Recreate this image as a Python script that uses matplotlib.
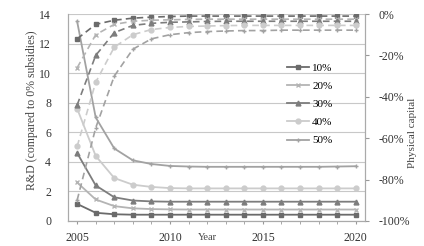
import matplotlib
matplotlib.use("Agg")
import matplotlib.pyplot as plt
from matplotlib.ticker import FuncFormatter

plt.rcParams['font.family'] = ['Liberation Serif', 'DejaVu Serif']

years = list(range(2005, 2021))
labels = ["10%", "20%", "30%", "40%", "50%"]

# R&D, compared to 0% subsidies (left axis, solid lines)
rd_10 = [1.15, 0.55, 0.45, 0.42, 0.42, 0.42, 0.42, 0.42, 0.42, 0.42, 0.42, 0.42, 0.42, 0.42, 0.42, 0.42]
rd_20 = [2.6, 1.45, 1.0, 0.85, 0.8, 0.78, 0.77, 0.77, 0.77, 0.77, 0.77, 0.77, 0.77, 0.77, 0.77, 0.77]
rd_30 = [4.6, 2.4, 1.6, 1.38, 1.32, 1.3, 1.3, 1.3, 1.3, 1.3, 1.3, 1.3, 1.3, 1.3, 1.3, 1.3]
rd_40 = [7.6, 4.4, 2.9, 2.45, 2.3, 2.22, 2.2, 2.2, 2.2, 2.2, 2.2, 2.2, 2.2, 2.2, 2.2, 2.2]
rd_50 = [13.5, 7.0, 4.9, 4.1, 3.85, 3.72, 3.68, 3.66, 3.66, 3.66, 3.66, 3.66, 3.66, 3.66, 3.68, 3.7]

# physical capital, % change (right axis, dashed lines)
pc_10 = [-12, -5, -3, -2, -1.5, -1.2, -1, -1, -1, -1, -1, -1, -1, -1, -1, -1]
pc_20 = [-26, -10, -5, -3.5, -3, -2.8, -2.6, -2.5, -2.5, -2.5, -2.5, -2.5, -2.5, -2.5, -2.5, -2.5]
pc_30 = [-44, -20, -9, -5.5, -4.5, -4, -3.8, -3.6, -3.5, -3.5, -3.5, -3.5, -3.5, -3.5, -3.5, -3.5]
pc_40 = [-64, -33, -16, -10, -7.5, -6.5, -6, -5.8, -5.6, -5.5, -5.5, -5.5, -5.5, -5.5, -5.5, -5.5]
pc_50 = [-90, -55, -30, -17, -12, -10, -9, -8.5, -8.2, -8, -8, -7.8, -7.8, -7.8, -7.8, -7.8]

rd = [rd_10, rd_20, rd_30, rd_40, rd_50]
pc = [pc_10, pc_20, pc_30, pc_40, pc_50]
colors = ["#6b6b6b", "#b4b4b4", "#7d7d7d", "#cccccc", "#a2a2a2"]
markers = ["s", "x", "^", "o", "+"]

x = list(range(len(years)))

fig = plt.figure(figsize=(4.24, 2.46), dpi=100)
ax = fig.add_axes([0.160, 0.102, 0.701, 0.841])
ax2 = ax.twinx()

handles = []
for i in range(5):
    h, = ax.plot(x, rd[i], color=colors[i], marker=markers[i], markersize=3.5,
                 markeredgewidth=1.0, linewidth=1.3, label=labels[i])
    handles.append(h)
    ax2.plot(x, pc[i], color=colors[i], marker=markers[i], markersize=3.5,
             markeredgewidth=1.0, linewidth=1.2, linestyle=(0, (4, 2.5)))

ax.set_xlim(-0.5, 15.5)
ax.set_ylim(0, 14)
ax.set_yticks(range(0, 15, 2))
ax.yaxis.grid(True, color="#c8c8c8", linewidth=0.8)
ax.set_axisbelow(True)
ax.set_xticks([0, 5, 10, 15])
ax.set_xticklabels(["2005", "2010", "2015", "2020"])
ax.set_xticks(x, minor=True)
ax.tick_params(axis="x", which="both", length=2, color="#999999", pad=6, labelsize=8.5)
ax.tick_params(axis="y", length=0, pad=12, labelsize=8.5, labelcolor="#333333")
ax.tick_params(axis="x", labelcolor="#333333")

ax2.set_ylim(-100, 0)
ax2.set_yticks(range(-100, 1, 20))
ax2.yaxis.set_major_formatter(FuncFormatter(lambda v, p: "%d%%" % v))
ax2.tick_params(axis="y", length=3, color="#999999", pad=7, labelsize=8.5, labelcolor="#333333")

for a in (ax, ax2):
    a.spines["top"].set_visible(False)
    for s in ("left", "right", "bottom"):
        a.spines[s].set_color("#aaaaaa")
        a.spines[s].set_linewidth(0.8)

fig.text(0.075, 0.55, "R&D (compared to 0% subsidies)", rotation=90,
         ha="center", va="center", fontsize=8.5, color="#444444")
fig.text(0.972, 0.46, "Physical capital", rotation=90,
         ha="center", va="center", fontsize=8, color="#444444")
fig.text(0.49, 0.035, "Year", ha="center", va="center", fontsize=7.5, color="#444444")

ax2.legend(handles=handles, loc="upper left", bbox_to_anchor=(0.71, 0.8),
           frameon=False, fontsize=8, handlelength=2.0, labelspacing=0.75,
           handletextpad=0.3, borderpad=0.2)

fig.savefig("out.png", dpi=100)
